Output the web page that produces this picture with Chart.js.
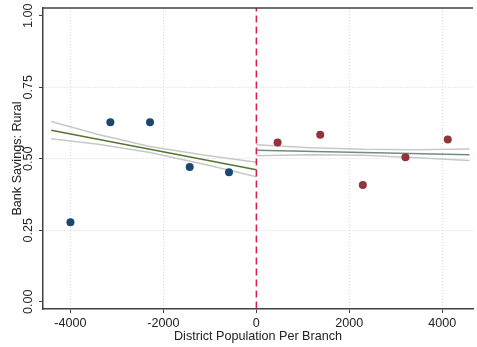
<!DOCTYPE html>
<html>
<head>
<meta charset="utf-8">
<script src="https://cdn.jsdelivr.net/npm/chart.js@4/dist/chart.umd.min.js"></script>
<style>
    body { margin: 0; background: #fff; }
    canvas { display: block; }
</style>
</head>
<body>
<canvas id="rdPlot" width="477" height="347"></canvas>
<script>
// Data: binned means on each side of the cutoff
const leftX = [-4000, -3141, -2288, -1435, -589];
const leftY = [0.278, 0.628, 0.628, 0.471, 0.453];
const rightX = [456, 1373, 2290, 3207, 4117];
const rightY = [0.557, 0.584, 0.408, 0.505, 0.567];

// Fitted lines and confidence bands
const leftFitX = [-4414, 0];
const leftFitY = [0.600, 0.462];
const leftBandX = [-4414, -3400, -2290, -1100, 0];
const leftUpper = [0.630, 0.585, 0.543, 0.512, 0.488];
const leftLower = [0.570, 0.551, 0.522, 0.480, 0.437];

const rightFitX = [0, 4584];
const rightFitY = [0.530, 0.514];
const rightBandX = [0, 1150, 2300, 3450, 4584];
const rightUpper = [0.549, 0.539, 0.533, 0.532, 0.534];
const rightLower = [0.511, 0.514, 0.512, 0.504, 0.494];

const cutoff = 0;
const yTicks = [0, 0.25, 0.5, 0.75, 1];
const xTicks = [-4000, -2000, 0, 2000, 4000];

function pts(xs, ys) {
    return xs.map((x, i) => ({x: x, y: ys[i]}));
}

function lineSet(xs, ys, color) {
    return {
        data: pts(xs, ys),
        showLine: true,
        borderColor: color,
        borderWidth: 1.5,
        pointRadius: 0,
        fill: false
    };
}

const fontFam = "'Liberation Sans', Arial, sans-serif";
const fontSize = 12.6;

// top frame line
const topFrame = {
    id: 'topFrame',
    afterDraw(chart) {
        const a = chart.chartArea;
        const c = chart.ctx;
        c.save();
        c.strokeStyle = '#404040';
        c.lineWidth = 1.5;
        c.beginPath();
        c.moveTo(a.left, a.top);
        c.lineTo(a.right, a.top);
        c.stroke();
        c.restore();
    }
};

const ctx = document.getElementById('rdPlot');
const rdPlot = new Chart(ctx, {
    type: 'scatter',
    data: {
        datasets: [
            {
                data: pts(leftX, leftY),
                backgroundColor: '#1a476f',
                pointRadius: 4,
                pointBorderWidth: 0
            },
            {
                data: pts(rightX, rightY),
                backgroundColor: '#90353b',
                pointRadius: 4,
                pointBorderWidth: 0
            },
            {
                data: [{x: cutoff, y: -0.1}, {x: cutoff, y: 1.1}],
                showLine: true,
                borderColor: '#dc1e46',
                borderWidth: 1.5,
                borderDash: [7, 4],
                pointRadius: 0
            },
            lineSet(leftFitX, leftFitY, '#55752f'),
            lineSet(rightFitX, rightFitY, '#6e8e84'),
            lineSet(leftBandX, leftUpper, '#c8c8c8'),
            lineSet(leftBandX, leftLower, '#c8c8c8'),
            lineSet(rightBandX, rightUpper, '#c8c8c8'),
            lineSet(rightBandX, rightLower, '#c8c8c8')
        ]
    },
    options: {
        responsive: false,
        animation: false,
        layout: { padding: { top: 8, right: 0, left: 0, bottom: 0 } },
        plugins: {
            legend: { display: false },
            tooltip: { enabled: false }
        },
        scales: {
            x: {
                type: 'linear',
                min: -4590,
                max: 4660,
                afterFit: s => { s.height = 38; },
                afterBuildTicks: s => { s.ticks = xTicks.map(v => ({value: v})); },
                ticks: {
                    color: '#222',
                    font: { family: fontFam, size: fontSize },
                    padding: 3,
                    maxRotation: 0,
                    callback: v => String(v)
                },
                grid: {
                    color: c => (c.tick && c.tick.value === 0) ? 'rgba(0,0,0,0)' : '#d8d8d8',
                    borderDash: [1, 2],
                    tickLength: 4,
                    tickColor: '#404040',
                    tickWidth: 1
                },
                border: { color: '#404040', width: 1.5, dash: [1, 2] },
                title: {
                    display: true,
                    text: 'District Population Per Branch',
                    color: '#222',
                    font: { family: fontFam, size: fontSize },
                    padding: { top: 0, bottom: 2.5 }
                }
            },
            y: {
                type: 'linear',
                min: -0.025,
                max: 1.027,
                afterFit: s => { s.width = 43; },
                afterBuildTicks: s => { s.ticks = yTicks.map(v => ({value: v})); },
                ticks: {
                    color: '#222',
                    font: { family: fontFam, size: fontSize },
                    minRotation: 90,
                    maxRotation: 90,
                    crossAlign: 'center',
                    padding: -2,
                    callback: v => Number(v).toFixed(2)
                },
                grid: {
                    color: c => (c.tick && (c.tick.value === 0 || c.tick.value === 1)) ? 'rgba(0,0,0,0)' : '#d8d8d8',
                    borderDash: [1, 2],
                    tickLength: 4,
                    tickColor: '#404040',
                    tickWidth: 1
                },
                border: { color: '#404040', width: 1.5, dash: [1, 2] },
                title: {
                    display: true,
                    text: 'Bank Savings: Rural',
                    color: '#222',
                    font: { family: fontFam, size: fontSize },
                    padding: { top: 9.5, bottom: 0 }
                }
            }
        }
    },
    plugins: [topFrame]
});
</script>
</body>
</html>
